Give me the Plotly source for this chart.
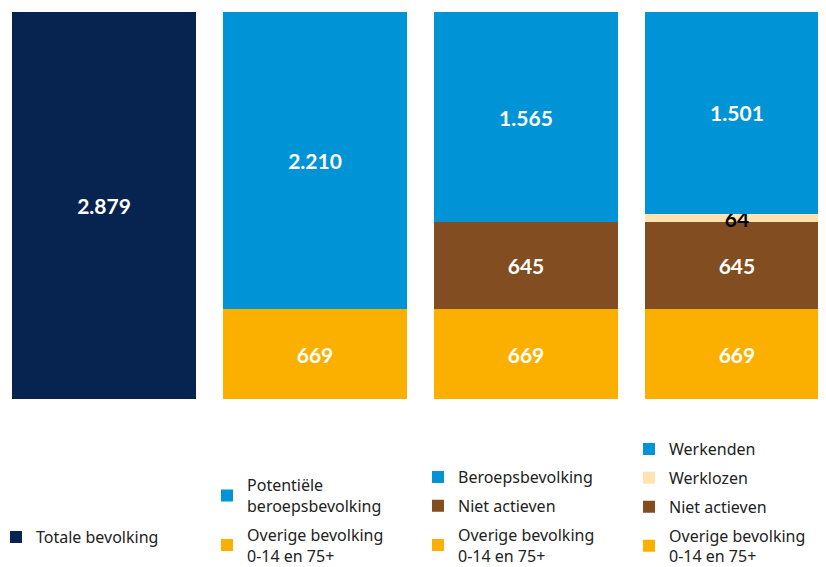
import plotly.graph_objects as go

# categories (one stacked bar each)
bars = ["Totaal", "Potentieel", "Beroeps", "Arbeid"]

# series values (x 1000)
totale_bevolking = [2879]
overige_bevolking = [669, 669, 669]
potentiele_beroeps = [2210]
niet_actieven = [645, 645]
beroepsbevolking = [1565]
werklozen = [64]
werkenden = [1501]

NAVY = "#06244f"
BLUE = "#0093d6"
ORANGE = "#fbb000"
BROWN = "#824d21"
SAND = "#ffe2b1"
OVERIGE = "Overige bevolking<br>0-14 en 75+"

fig = go.Figure()


def add_bar(x, y, name, color, legend, rank, text_color="white"):
    # stack bottom-up; legend lists top segment first (lower rank = higher)
    fig.add_trace(go.Bar(
        x=x, y=y, name=name, legend=legend, legendgroup=legend + name,
        legendrank=rank,
        marker=dict(color=color, line=dict(width=0)),
        texttemplate="%{y:,}", textposition="inside", textangle=0,
        insidetextanchor="middle", constraintext="none",
        textfont=dict(color=text_color, size=21, family="Lato", weight="bold"),
        hoverinfo="skip",
    ))


add_bar(bars[0:1], totale_bevolking, "Totale bevolking", NAVY, "legend", 1)

add_bar(bars[1:2], overige_bevolking[0:1], OVERIGE, ORANGE, "legend2", 4)
add_bar(bars[1:2], potentiele_beroeps, "Potentiële<br>beroepsbevolking", BLUE, "legend2", 1)

add_bar(bars[2:3], overige_bevolking[1:2], OVERIGE, ORANGE, "legend3", 4)
add_bar(bars[2:3], niet_actieven[0:1], "Niet actieven", BROWN, "legend3", 3)
add_bar(bars[2:3], beroepsbevolking, "Beroepsbevolking", BLUE, "legend3", 1)

add_bar(bars[3:4], overige_bevolking[2:3], OVERIGE, ORANGE, "legend4", 4)
add_bar(bars[3:4], niet_actieven[1:2], "Niet actieven", BROWN, "legend4", 3)
add_bar(bars[3:4], werklozen, "Werklozen", SAND, "legend4", 2, text_color="black")
add_bar(bars[3:4], werkenden, "Werkenden", BLUE, "legend4", 1)

legend_style = dict(
    orientation="v", traceorder="grouped", yanchor="bottom", y=-0.45,
    xanchor="left", font=dict(family="Noto Sans", size=16, color="#222222"),
    bgcolor="rgba(0,0,0,0)", tracegroupgap=5, itemclick=False,
)

fig.update_layout(
    width=818, height=559,
    margin=dict(l=0, r=0, t=4, b=168, autoexpand=False),
    barmode="stack", bargap=0.128,
    separators=",.",
    paper_bgcolor="white", plot_bgcolor="white",
    xaxis=dict(visible=False, range=[-0.455, 3.422]),
    yaxis=dict(visible=False, range=[0, 2879]),
    legend=dict(legend_style, x=-0.0147, y=-0.401),
    legend2=dict(legend_style, x=0.2433),
    legend3=dict(legend_style, x=0.5012),
    legend4=dict(legend_style, x=0.7592),
    showlegend=True,
)

fig.write_html("out.html")
